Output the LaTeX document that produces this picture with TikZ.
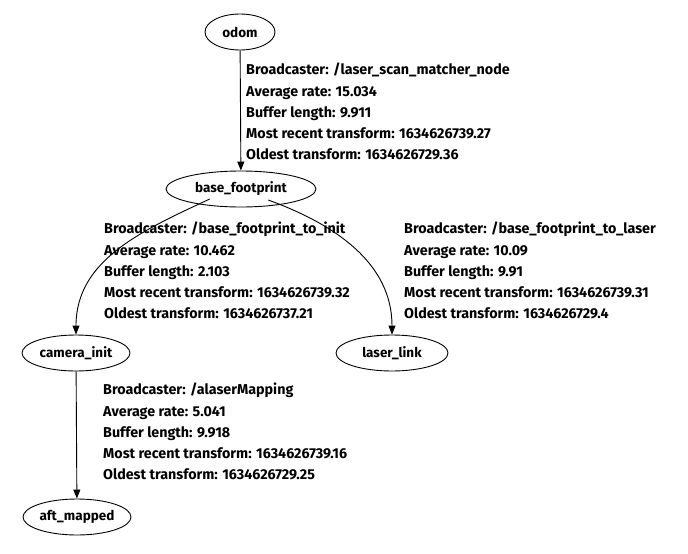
\documentclass[tikz,border=0pt]{standalone}
\usepackage{fontspec}
\setmainfont{Fira Sans}
\usetikzlibrary{shapes.geometric,arrows.meta}
\begin{document}
\begin{tikzpicture}[x=1pt,y=-1pt,
  nd/.style={ellipse,draw,line width=0.9pt,minimum height=36pt,inner sep=0pt,font=\fontsize{13.5}{15}\selectfont\bfseries},
  ed/.style={-{Triangle[length=9pt,width=7pt]},line width=0.9pt},
  lb/.style={anchor=north west,align=left,inner sep=0pt,font=\fontsize{14.3}{21.2}\selectfont\bfseries}]
\useasboundingbox (0,0) rectangle (688,554);
\node[nd,minimum width=70pt] (odom) at (240,32) {odom};
\node[nd,minimum width=150pt] (base) at (241,189) {base\_footprint};
\node[nd,minimum width=108pt] (cam) at (76,353) {camera\_init};
\node[nd,minimum width=112pt] (laser) at (392,353) {laser\_link};
\node[nd,minimum width=108pt] (aft) at (77,517) {aft\_mapped};
\draw[ed] (odom) -- (base);
\draw[ed] (base.south west) ++(22,-3) coordinate (s1) (s1) to[out=205,in=90] (cam.north);
\draw[ed] (base.south east) ++(-26,-2) coordinate (s2) (s2) to[out=-20,in=90] (laser.north);
\draw[ed] (cam) -- (aft);
\node[lb] (l1) at (246,63) {Broadcaster: /laser\_scan\_matcher\_node\\Average rate: 15.034\\Buffer length: 9.911\\Most recent transform: 1634626739.27\\Oldest transform: 1634626729.36};
\node[lb] (l2) at (104,222) {Broadcaster: /base\_footprint\_to\_init\\Average rate: 10.462\\Buffer length: 2.103\\Most recent transform: 1634626739.32\\Oldest transform: 1634626737.21};
\node[lb] (l3) at (404,222) {Broadcaster: /base\_footprint\_to\_laser\\Average rate: 10.09\\Buffer length: 9.91\\Most recent transform: 1634626739.31\\Oldest transform: 1634626729.4};
\node[lb] (l4) at (103,383) {Broadcaster: /alaserMapping\\Average rate: 5.041\\Buffer length: 9.918\\Most recent transform: 1634626739.16\\Oldest transform: 1634626729.25};
\end{tikzpicture}
\end{document}
